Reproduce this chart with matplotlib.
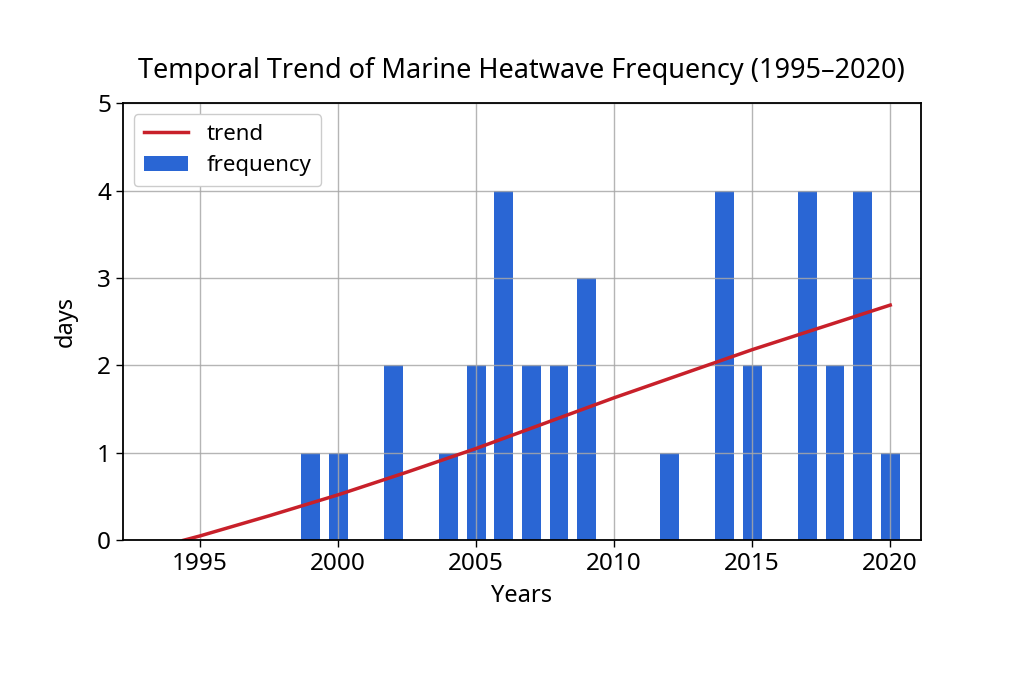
import matplotlib
matplotlib.use("Agg")
import matplotlib.pyplot as plt

years = [1999, 2000, 2002, 2004, 2005, 2006, 2007, 2008, 2009,
         2012, 2014, 2015, 2017, 2018, 2019, 2020]
frequency = [1, 1, 2, 1, 2, 4, 2, 2, 3,
             1, 4, 2, 4, 2, 4, 1]

trend_years = [1994.4, 1995, 1997.5, 2000, 2002.5, 2005, 2010, 2015, 2020]
trend_values = [0.0, 0.05, 0.28, 0.52, 0.78, 1.05, 1.63, 2.18, 2.69]

xticks = [1995, 2000, 2005, 2010, 2015, 2020]
yticks = [0, 1, 2, 3, 4, 5]

plt.rcParams['font.family'] = ['Noto Sans', 'DejaVu Sans']

fig = plt.figure(figsize=(10.24, 6.83), dpi=100)
ax = fig.add_axes([0.120, 0.209, 0.779, 0.640])

ax.bar(years, frequency, width=0.68, color='#2a66d4', label='frequency', zorder=1)
ax.grid(True, color='#a8a8a8', linewidth=1.0, alpha=0.85, zorder=2)
ax.set_axisbelow(False)
ax.plot(trend_years, trend_values, color='#c8202a', linewidth=2.5, label='trend', zorder=3)

ax.set_xlim(1992.2, 2021.1)
ax.set_ylim(0, 5)
ax.set_xticks(xticks)
ax.set_yticks(yticks)
ax.tick_params(labelsize=17.5, length=5, width=1)
for s in ax.spines.values():
    s.set_linewidth(1.3)
    s.set_zorder(4)

ax.set_xlabel('Years', fontsize=17, labelpad=6)
ax.set_ylabel('days', fontsize=17, labelpad=14)
ax.set_title('Temporal Trend of Marine Heatwave Frequency (1995\u20132020)', fontsize=19.5, pad=18)

handles, labels = ax.get_legend_handles_labels()
leg = ax.legend(handles, labels, loc='upper left', fontsize=16, framealpha=1.0,
                edgecolor='#cccccc', borderpad=0.45, handlelength=2.0, labelspacing=0.45)
leg.set_zorder(5)

fig.savefig('out.png', dpi=100)
